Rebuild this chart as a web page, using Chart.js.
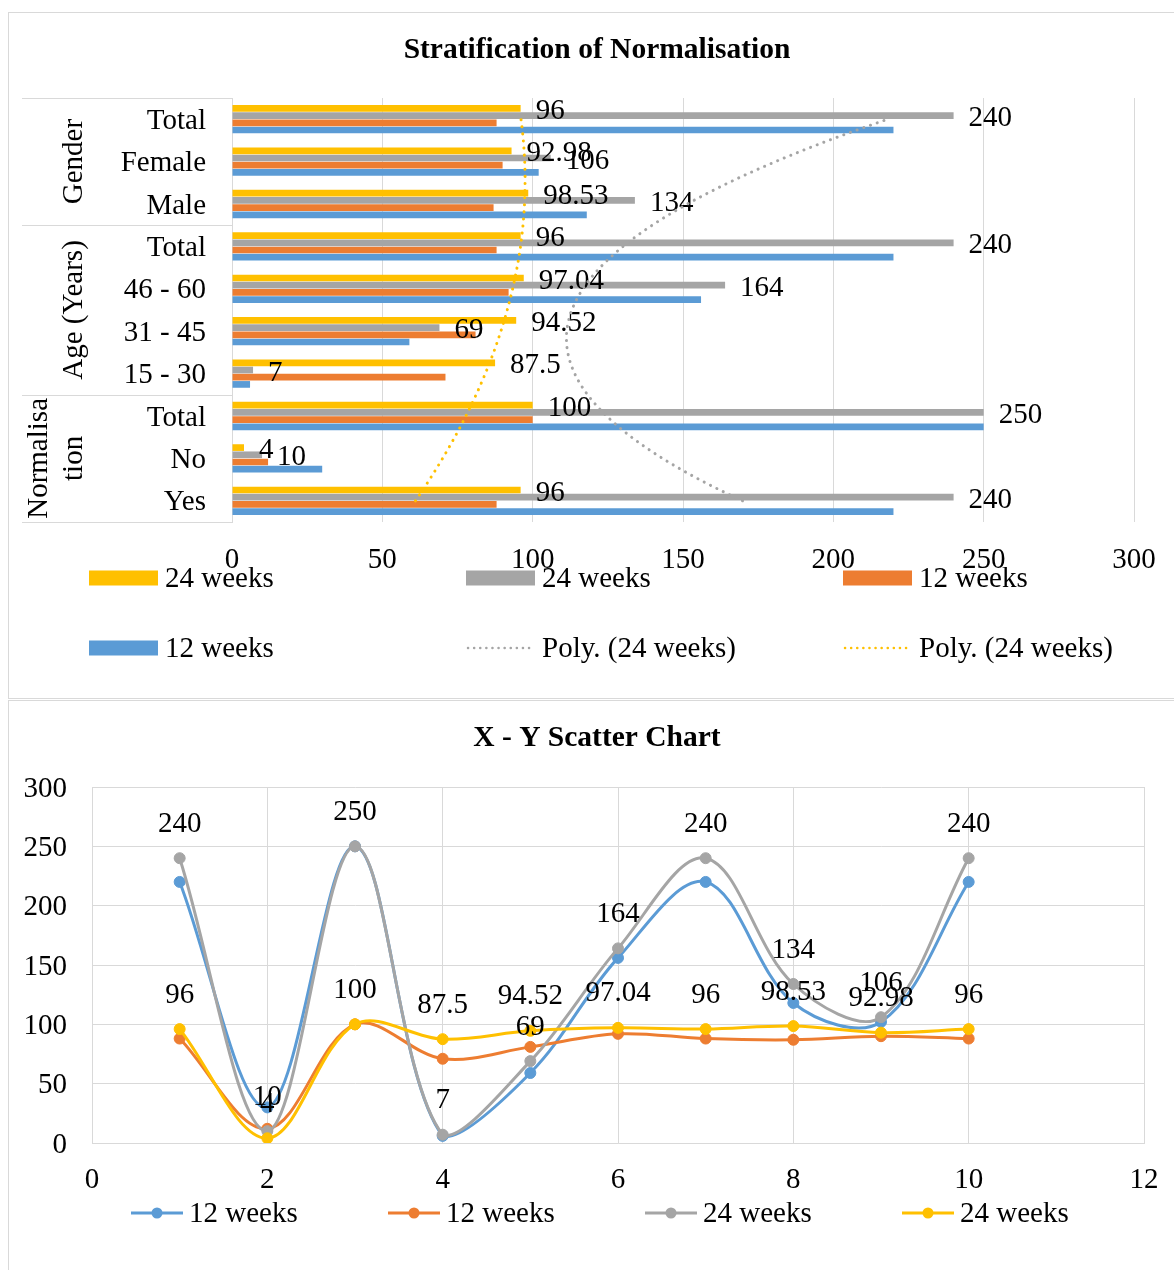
<!DOCTYPE html>
<html>
<head>
<meta charset="utf-8">
<script src="https://cdn.jsdelivr.net/npm/chart.js@4.4.1/dist/chart.umd.min.js"></script>
<style>
  body { margin: 0; background: #fff; }
  .box { position: absolute; left: 8px; width: 1180px; border: 1px solid #d9d9d9; box-sizing: border-box; }
  #box1 { top: 12px; height: 687px; }
  #box2 { top: 700px; height: 600px; }
  canvas { position: absolute; }
  #bars, #trends { left: 8px; top: 12px; }
  #scatter { left: 8px; top: 700px; }
</style>
</head>
<body>
<div class="box" id="box1"></div>
<div class="box" id="box2"></div>
<canvas id="bars" width="1166" height="686"></canvas>
<canvas id="trends" width="1166" height="686"></canvas>
<canvas id="scatter" width="1166" height="570"></canvas>
<script>
// categories in the order of the x values of the scatter chart (1..10)
const categories = ["Yes", "No", "Total", "15 - 30", "31 - 45", "46 - 60", "Total", "Male", "Female", "Total"];
const groupNames = [["Normalisa", "tion"], ["Age (Years)"], ["Gender"]];
const groupSizes = [3, 4, 3];
const caseNo = [1, 2, 3, 4, 5, 6, 7, 8, 9, 10];

const weeks12Count = [220, 30, 250, 6, 59, 156, 220, 118, 102, 220];
const weeks12Pct = [88, 12, 100, 71, 81, 92, 88, 87, 90, 88];
const weeks24Count = [240, 10, 250, 7, 69, 164, 240, 134, 106, 240];
const weeks24Pct = [96, 4, 100, 87.5, 94.52, 97.04, 96, 98.53, 92.98, 96];

const FONT = '"Liberation Serif", "Times New Roman", serif';
const TXT = "29px " + FONT;
const BLUE = "#5B9BD5", ORANGE = "#ED7D31", GRAY = "#A5A5A5", YELLOW = "#FFC000", GRID = "#D9D9D9";

// least squares polynomial (order 2), like Excel's "Poly." trendline
function polyFit2(xs, ys) {
  const S = [0, 0, 0, 0, 0], T = [0, 0, 0];
  xs.forEach((x, i) => {
    let p = 1;
    for (let k = 0; k < 5; k++) {
      S[k] += p;
      if (k < 3) T[k] += p * ys[i];
      p *= x;
    }
  });
  const A = [[S[0], S[1], S[2], T[0]], [S[1], S[2], S[3], T[1]], [S[2], S[3], S[4], T[2]]];
  for (let c = 0; c < 3; c++) {
    for (let r = c + 1; r < 3; r++) {
      const f = A[r][c] / A[c][c];
      for (let k = c; k < 4; k++) A[r][k] -= f * A[c][k];
    }
  }
  const coef = [0, 0, 0];
  for (let r = 2; r >= 0; r--) {
    let s = A[r][3];
    for (let k = r + 1; k < 3; k++) s -= A[r][k] * coef[k];
    coef[r] = s / A[r][r];
  }
  return coef;
}

function trendPoints(values) {
  const c = polyFit2(caseNo, values);
  const pts = [];
  const first = caseNo[0], last = caseNo[caseNo.length - 1];
  for (let t = first; t <= last + 1e-9; t += 0.1) {
    pts.push({ x: c[0] + c[1] * t + c[2] * t * t, y: t });
  }
  return pts;
}

function drawTitle(chart, text) {
  const ctx = chart.ctx;
  ctx.save();
  ctx.font = "bold 29.5px " + FONT;
  ctx.fillStyle = "#000";
  ctx.textAlign = "center";
  ctx.textBaseline = "middle";
  ctx.fillText(text, 589, 38);
  ctx.restore();
}

// keep the plot edge where the layout padding puts it
const noSidePadding = s => {
  s.paddingLeft = 0;
  s.paddingRight = 0;
};

// ---------- top chart: stratification bars ----------
const barSets = [
  { label: "24 weeks", data: weeks24Pct, backgroundColor: YELLOW, showValues: true },
  { label: "24 weeks", data: weeks24Count, backgroundColor: GRAY, showValues: true },
  { label: "12 weeks", data: weeks12Pct, backgroundColor: ORANGE },
  { label: "12 weeks", data: weeks12Count, backgroundColor: BLUE }
];

const trendStyle = {
  borderWidth: 3,
  borderDash: [0.1, 7],
  borderCapStyle: "round",
  pointRadius: 0,
  fill: false,
  tension: 0
};
const trendSets = [
  Object.assign({ type: "line", label: "Poly. (24 weeks)", data: trendPoints(weeks24Count), borderColor: GRAY }, trendStyle),
  Object.assign({ type: "line", label: "Poly. (24 weeks)", data: trendPoints(weeks24Pct), borderColor: YELLOW }, trendStyle)
];

const barLabels = {
  id: "barLabels",
  afterDatasetsDraw(chart) {
    const ctx = chart.ctx;
    ctx.save();
    ctx.font = TXT;
    ctx.fillStyle = "#000";
    ctx.textAlign = "left";
    ctx.textBaseline = "middle";
    chart.data.datasets.forEach((ds, i) => {
      if (!ds.showValues) return;
      chart.getDatasetMeta(i).data.forEach((el, j) => {
        ctx.fillText(String(ds.data[j]), el.x + 15, el.y + 3);
      });
    });
    ctx.restore();
  }
};

const groupAxis = {
  id: "groupAxis",
  afterDraw(chart) {
    const ctx = chart.ctx;
    const ys = chart.scales.y;
    const step = Math.abs(ys.getPixelForValue(0) - ys.getPixelForValue(1));
    const left = 14, right = chart.chartArea.left;
    ctx.save();
    ctx.strokeStyle = GRID;
    ctx.lineWidth = 1;
    let start = 0;
    groupSizes.forEach((size, g) => {
      const yBottom = ys.getPixelForValue(start) + step / 2;
      const yTop = ys.getPixelForValue(start + size - 1) - step / 2;
      [yBottom, yTop].forEach(y => {
        ctx.beginPath();
        ctx.moveTo(left, Math.round(y) + 0.5);
        ctx.lineTo(right, Math.round(y) + 0.5);
        ctx.stroke();
      });
      const lines = groupNames[g];
      const cy = (yTop + yBottom) / 2;
      ctx.font = TXT;
      ctx.fillStyle = "#000";
      ctx.textAlign = "center";
      ctx.textBaseline = "middle";
      lines.forEach((txt, k) => {
        const x = 66 - (lines.length - 1 - k) * 35;
        ctx.save();
        ctx.translate(x, cy);
        ctx.rotate(-Math.PI / 2);
        ctx.fillText(txt, 0, 0);
        ctx.restore();
      });
      start += size;
    });
    ctx.restore();
    drawTitle(chart, "Stratification of Normalisation");
  }
};

const boxLegend = {
  id: "boxLegend",
  afterDraw(chart) {
    const ctx = chart.ctx;
    const cols = [81, 458, 835], rows = [566, 636];
    barSets.concat(trendSets).forEach((ds, i) => {
      const x = cols[i % 3], y = rows[Math.floor(i / 3)];
      ctx.save();
      if (ds.type === "line") {
        ctx.strokeStyle = ds.borderColor;
        ctx.lineWidth = 2.5;
        ctx.lineCap = "round";
        ctx.setLineDash([0.1, 6]);
        ctx.beginPath();
        ctx.moveTo(x + 2, y);
        ctx.lineTo(x + 64, y);
        ctx.stroke();
        ctx.setLineDash([]);
      } else {
        ctx.fillStyle = ds.backgroundColor;
        ctx.fillRect(x, y - 7.5, 69, 15);
      }
      ctx.font = TXT;
      ctx.fillStyle = "#000";
      ctx.textAlign = "left";
      ctx.textBaseline = "middle";
      ctx.fillText(ds.label, x + 76, y + 1);
      ctx.restore();
    });
  }
};

const barChart = new Chart(document.getElementById("bars"), {
  type: "bar",
  data: { labels: categories, datasets: barSets },
  options: {
    indexAxis: "y",
    responsive: false,
    animation: false,
    datasets: { bar: { categoryPercentage: 0.68, barPercentage: 0.93 } },
    layout: { padding: { top: 86, right: 40 } },
    scales: {
      x: {
        type: "linear",
        min: 0,
        max: 300,
        ticks: { stepSize: 50, padding: 21, color: "#000", maxRotation: 0, font: { family: FONT, size: 29 } },
        grid: { color: GRID, drawTicks: false },
        border: { display: false },
        afterFit: s => { s.height = 176; noSidePadding(s); }
      },
      y: {
        type: "category",
        reverse: true,
        offset: true,
        grid: { display: false, drawTicks: false },
        border: { color: GRID },
        ticks: { padding: 26, labelOffset: 2, color: "#000", autoSkip: false, font: { family: FONT, size: 29 } },
        afterFit: s => { s.width = 224; }
      }
    },
    plugins: {
      legend: { display: false },
      tooltip: { enabled: false },
      title: { display: false }
    }
  },
  plugins: [barLabels, groupAxis, boxLegend]
});

// trendlines: a transparent chart laid exactly over the bar chart's plot area,
// y runs over the category positions (1 = bottom category ... 10 = top)
const area = barChart.chartArea;
const trendCanvas = document.getElementById("trends");
new Chart(trendCanvas, {
  type: "line",
  data: { datasets: trendSets },
  options: {
    responsive: false,
    animation: false,
    layout: {
      padding: {
        left: area.left,
        top: area.top,
        right: trendCanvas.width - area.right,
        bottom: trendCanvas.height - area.bottom
      }
    },
    scales: {
      x: { type: "linear", min: 0, max: 300, display: false },
      y: { type: "linear", min: caseNo[0] - 0.5, max: caseNo[caseNo.length - 1] + 0.5, display: false }
    },
    plugins: { legend: { display: false }, tooltip: { enabled: false } }
  }
});

// ---------- bottom chart: X - Y scatter ----------
const pointLabels = {
  id: "pointLabels",
  afterDatasetsDraw(chart) {
    const ctx = chart.ctx;
    ctx.save();
    ctx.font = TXT;
    ctx.fillStyle = "#000";
    ctx.textAlign = "center";
    ctx.textBaseline = "middle";
    chart.data.datasets.forEach((ds, i) => {
      if (!ds.showValues) return;
      chart.getDatasetMeta(i).data.forEach((el, j) => {
        ctx.fillText(String(ds.data[j].y), el.x, el.y - 34);
      });
    });
    ctx.restore();
  }
};

const lineLegend = {
  id: "lineLegend",
  afterDraw(chart) {
    const ctx = chart.ctx;
    const starts = [123, 380, 637, 894], y = 513;
    chart.data.datasets.forEach((ds, i) => {
      const x = starts[i];
      ctx.save();
      ctx.strokeStyle = ds.borderColor;
      ctx.lineWidth = 3;
      ctx.beginPath();
      ctx.moveTo(x, y);
      ctx.lineTo(x + 52, y);
      ctx.stroke();
      ctx.fillStyle = ds.borderColor;
      ctx.beginPath();
      ctx.arc(x + 26, y, 5.5, 0, Math.PI * 2);
      ctx.fill();
      ctx.font = TXT;
      ctx.fillStyle = "#000";
      ctx.textAlign = "left";
      ctx.textBaseline = "middle";
      ctx.fillText(ds.label, x + 58, y + 1);
      ctx.restore();
    });
    drawTitle(chart, "X - Y Scatter Chart");
  }
};

const toPoints = values => caseNo.map((x, i) => ({ x: x, y: values[i] }));

function seriesStyle(color, order) {
  return {
    borderColor: color,
    backgroundColor: color,
    pointBackgroundColor: color,
    pointBorderColor: color,
    order: order
  };
}

new Chart(document.getElementById("scatter"), {
  type: "line",
  data: {
    datasets: [
      Object.assign({ label: "12 weeks", data: toPoints(weeks12Count) }, seriesStyle(BLUE, 3)),
      Object.assign({ label: "12 weeks", data: toPoints(weeks12Pct) }, seriesStyle(ORANGE, 2)),
      Object.assign({ label: "24 weeks", data: toPoints(weeks24Count), showValues: true }, seriesStyle(GRAY, 1)),
      Object.assign({ label: "24 weeks", data: toPoints(weeks24Pct), showValues: true }, seriesStyle(YELLOW, 0))
    ]
  },
  options: {
    responsive: false,
    animation: false,
    layout: { padding: { top: 87, right: 30 } },
    elements: {
      line: { tension: 0.35, borderWidth: 3, fill: false },
      point: { radius: 5.5, borderWidth: 1 }
    },
    scales: {
      x: {
        type: "linear",
        min: 0,
        max: 12,
        ticks: { stepSize: 2, padding: 20, color: "#000", maxRotation: 0, font: { family: FONT, size: 29 } },
        grid: { color: GRID, drawTicks: false },
        border: { color: GRID },
        afterFit: s => { s.height = 127; noSidePadding(s); }
      },
      y: {
        type: "linear",
        min: 0,
        max: 300,
        ticks: { stepSize: 50, padding: 25, labelOffset: 2, color: "#000", font: { family: FONT, size: 29 } },
        grid: { color: GRID, drawTicks: false },
        border: { color: GRID },
        afterFit: s => { s.width = 84; }
      }
    },
    plugins: {
      legend: { display: false },
      tooltip: { enabled: false },
      title: { display: false }
    }
  },
  plugins: [pointLabels, lineLegend]
});
</script>
</body>
</html>
